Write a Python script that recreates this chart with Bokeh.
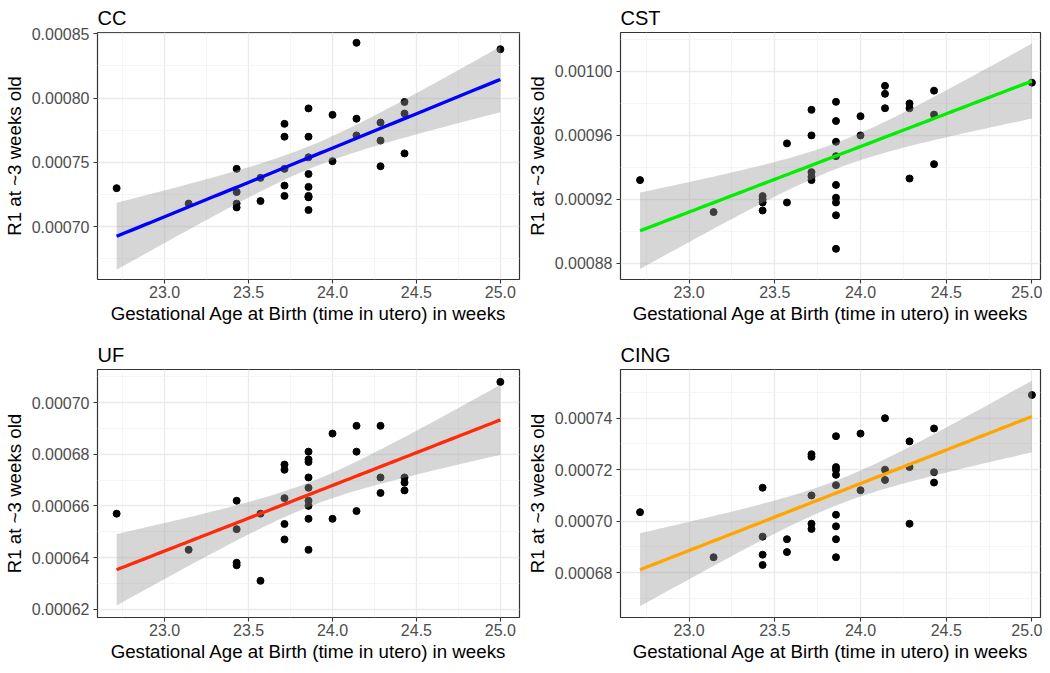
import numpy as np
from bokeh.plotting import figure
from bokeh.layouts import column, row
from bokeh.models import FixedTicker, PrintfTickFormatter, Range1d
from bokeh.embed import file_html
from bokeh.resources import INLINE

# Gestational age at birth (weeks), grouped
ga = [22.714,
      23.143,
      23.429, 23.429, 23.429, 23.429,
      23.571, 23.571,
      23.714, 23.714, 23.714, 23.714, 23.714,
      23.857, 23.857, 23.857, 23.857, 23.857, 23.857, 23.857, 23.857, 23.857,
      24.0, 24.0,
      24.143, 24.143, 24.143,
      24.286, 24.286, 24.286,
      24.429, 24.429, 24.429,
      25.0]

cc = [0.000730,
      0.000718,
      0.000745, 0.000727, 0.000718, 0.000715,
      0.000738, 0.000720,
      0.000780, 0.000770, 0.000745, 0.000732, 0.000724,
      0.000792, 0.000770, 0.000754, 0.000741, 0.000731, 0.000724, 0.000723, 0.000723, 0.000713,
      0.000787, 0.000751,
      0.000843, 0.000784, 0.000771,
      0.000781, 0.000767, 0.000747,
      0.000797, 0.000788, 0.000757,
      0.000838]

cst = [0.000932,
       0.000912,
       0.000922, 0.000920, 0.000918, 0.000913,
       0.000955, 0.000918,
       0.000976, 0.000960, 0.000937, 0.000934, 0.000932,
       0.000981, 0.000969, 0.000956, 0.000947, 0.000929, 0.000921, 0.000918, 0.000910, 0.000889,
       0.000972, 0.000960,
       0.000991, 0.000986, 0.000977,
       0.000980, 0.000977, 0.000933,
       0.000988, 0.000973, 0.000942,
       0.000993]

uf = [0.000657,
      0.000643,
      0.000662, 0.000651, 0.000638, 0.000637,
      0.000657, 0.000631,
      0.000676, 0.000674, 0.000663, 0.000653, 0.000647,
      0.000681, 0.000678, 0.000677, 0.000671, 0.000667, 0.000662, 0.000660, 0.000655, 0.000643,
      0.000688, 0.000655,
      0.000691, 0.000681, 0.000658,
      0.000691, 0.000671, 0.000665,
      0.000671, 0.000669, 0.000666,
      0.000708]

cing = [0.0007035,
        0.000686,
        0.000713, 0.000694, 0.000687, 0.000683,
        0.000693, 0.000688,
        0.000726, 0.000725, 0.000710, 0.000699, 0.000697,
        0.000733, 0.000721, 0.000720, 0.000718, 0.000714, 0.0007025, 0.000698, 0.000693, 0.000686,
        0.000734, 0.000712,
        0.000740, 0.000720, 0.000716,
        0.000731, 0.000721, 0.000699,
        0.000736, 0.000719, 0.000715,
        0.000749]

x_ticks = [23.0, 23.5, 24.0, 24.5, 25.0]
x_minor = [22.75, 23.25, 23.75, 24.25, 24.75]

cc_ticks = [0.00070, 0.00075, 0.00080, 0.00085]
cc_minor = [0.000675, 0.000725, 0.000775, 0.000825]
cst_ticks = [0.00088, 0.00092, 0.00096, 0.00100]
cst_minor = [0.00090, 0.00094, 0.00098, 0.00102]
uf_ticks = [0.00062, 0.00064, 0.00066, 0.00068, 0.00070]
uf_minor = [0.00063, 0.00065, 0.00067, 0.00069, 0.00071]
cing_ticks = [0.00068, 0.00070, 0.00072, 0.00074]
cing_minor = [0.00067, 0.00069, 0.00071, 0.00073, 0.00075]

FONT = "Liberation Sans"
T_CRIT = 2.0369  # t(0.975, df=32)


def lm_band(x, y):
    x = np.asarray(x, float)
    y = np.asarray(y, float)
    n = len(x)
    A = np.column_stack([np.ones(n), x])
    beta, *_ = np.linalg.lstsq(A, y, rcond=None)
    res = y - A @ beta
    s2 = (res ** 2).sum() / (n - 2)
    xbar = x.mean()
    sxx = ((x - xbar) ** 2).sum()
    xs = np.linspace(x.min(), x.max(), 80)
    yh = beta[0] + beta[1] * xs
    se = np.sqrt(s2 * (1.0 / n + (xs - xbar) ** 2 / sxx))
    return xs, yh, yh - T_CRIT * se, yh + T_CRIT * se


def panel(title, yvals, color, yr, yticks, yminor, fw, fh,
          bl, br, bt, bb, xend):
    p = figure(frame_width=fw, frame_height=fh, output_backend="svg",
               toolbar_location=None, x_range=Range1d(22.6, xend),
               y_range=Range1d(*yr),
               min_border_left=bl, min_border_right=br,
               min_border_top=bt, min_border_bottom=bb,
               background_fill_color="white", border_fill_color="white")
    p.title.text = title
    p.title.text_font = FONT
    p.title.text_font_size = "20px"
    p.title.text_font_style = "normal"
    p.title.text_color = "black"
    p.title.align = "left"
    p.title.offset = 0
    p.title.standoff = 8

    p.outline_line_color = "#333333"
    p.outline_line_width = 1.2

    p.xaxis.ticker = FixedTicker(ticks=x_ticks, minor_ticks=x_minor)
    p.yaxis.ticker = FixedTicker(ticks=yticks, minor_ticks=yminor)
    p.xaxis.formatter = PrintfTickFormatter(format="%.1f")
    p.yaxis.formatter = PrintfTickFormatter(format="%.5f")

    for ax in (p.xaxis, p.yaxis):
        ax.axis_line_color = None
        ax.major_tick_line_color = "#333333"
        ax.major_tick_line_width = 1.1
        ax.major_tick_out = 4
        ax.major_tick_in = 0
        ax.minor_tick_line_color = None
        ax.major_label_text_font = FONT
        ax.major_label_text_font_size = "16px"
        ax.major_label_text_color = "#4D4D4D"
        ax.axis_label_text_font = FONT
        ax.axis_label_text_font_size = "18.7px"
        ax.axis_label_text_font_style = "normal"
        ax.axis_label_text_color = "black"
    p.xaxis.axis_label = "Gestational Age at Birth (time in utero) in weeks"
    p.yaxis.axis_label = "R1 at ~3 weeks old"
    p.xaxis.major_label_standoff = 2
    p.xaxis.axis_label_standoff = 2
    p.yaxis.major_label_standoff = 4
    p.yaxis.axis_label_standoff = 4

    for g in (p.xgrid, p.ygrid):
        g.grid_line_color = "#EBEBEB"
        g.grid_line_width = 1.3
        g.minor_grid_line_color = "#F2F2F2"
        g.minor_grid_line_width = 0.8

    p.scatter(ga, yvals, size=7, color="black")
    xs, yh, lo, hi = lm_band(ga, yvals)
    p.varea(x=xs, y1=lo, y2=hi, fill_color="#999999", fill_alpha=0.4)
    p.line(xs, yh, line_color=color, line_width=3.3)
    return p


p1 = panel("CC", cc, "#0000FF", (0.000659, 0.000851), cc_ticks, cc_minor,
           422, 247, 86, 4, 19, 10, 25.114)
p2 = panel("CST", cst, "#00EE00", (0.0008698, 0.0010244), cst_ticks, cst_minor,
           420, 247, 86, 2, 19, 10, 25.05)
p3 = panel("UF", uf, "#FF2A0A", (0.0006168, 0.0007128), uf_ticks, uf_minor,
           422, 248, 86, 4, 43, 10, 25.114)
p4 = panel("CING", cing, "#FFA500", (0.0006626, 0.0007589), cing_ticks, cing_minor,
           420, 248, 86, 2, 43, 10, 25.05)

layout = column(row(p1, p2), row(p3, p4))
open("out.html", "w").write(file_html(layout, INLINE))
